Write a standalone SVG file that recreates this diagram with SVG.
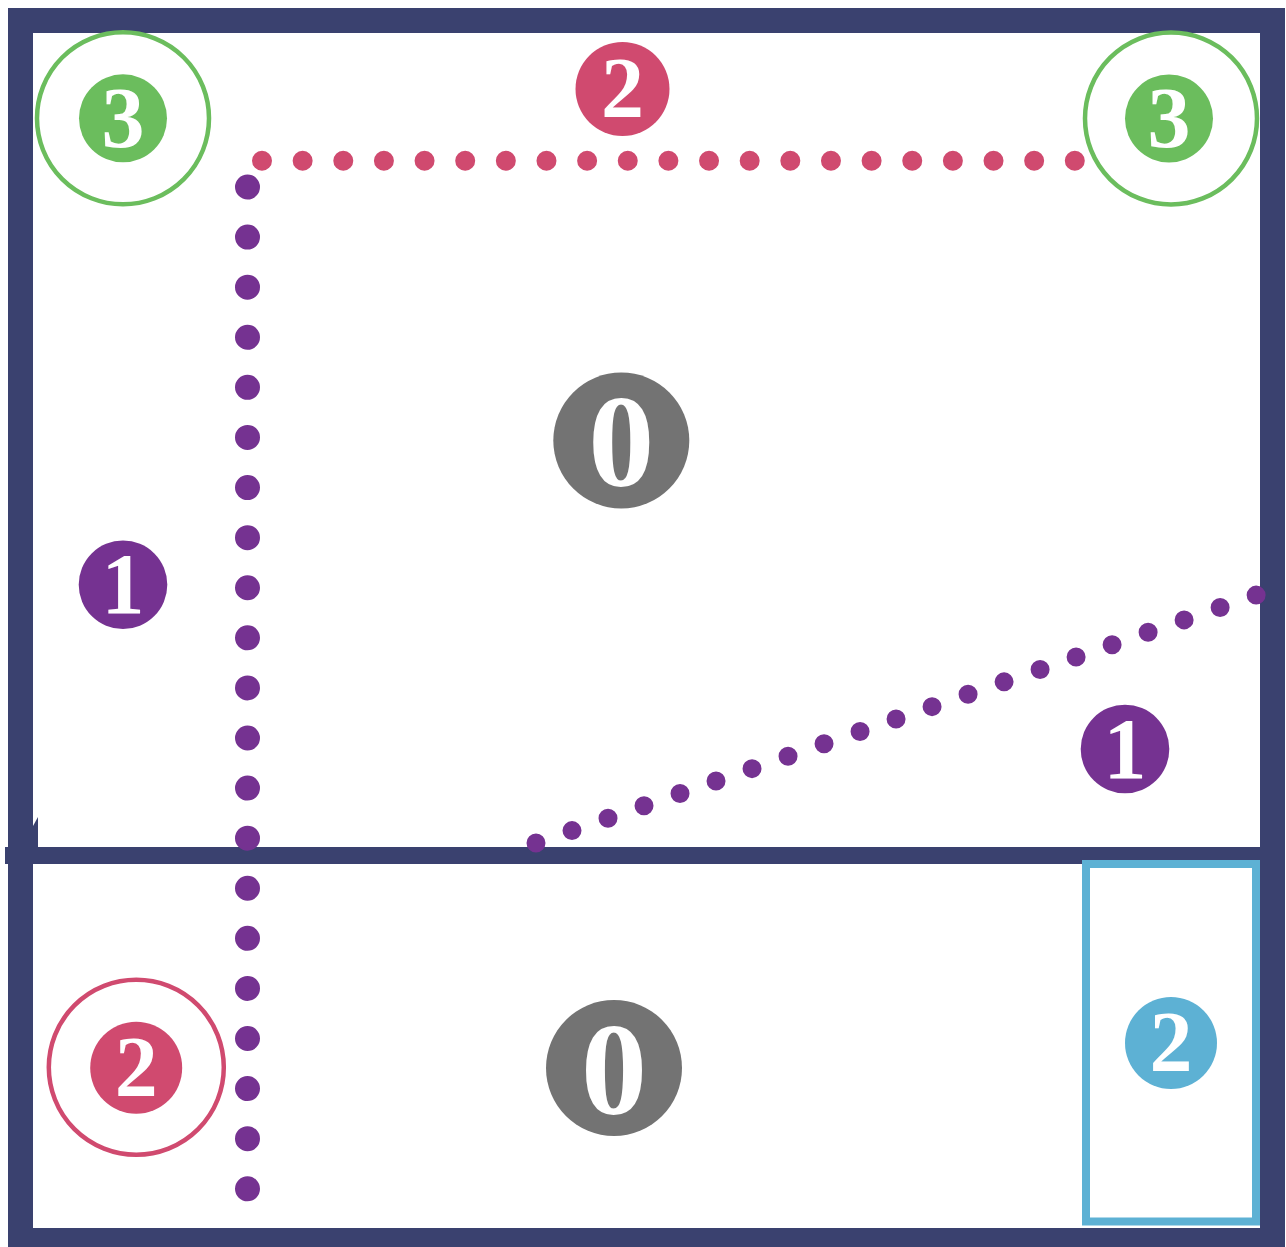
<svg xmlns="http://www.w3.org/2000/svg" width="1286" height="1247" viewBox="0 0 1286 1247">
  <style>
    .num { font-family: "Liberation Serif", "DejaVu Serif", serif; font-weight: bold; fill: #ffffff; text-anchor: middle; }
    .s { font-size: 86px; }
    .l { font-size: 132px; }
    .frame { fill: none; stroke: #3a416f; }
    .green { fill: #6bbd5d; }
    .pink { fill: #d04a6f; }
    .purple { fill: #753291; }
    .gray { fill: #737373; }
    .blue { fill: #5db1d4; }
    .dots { fill: none; stroke-linecap: round; }
  </style>
  <rect width="1286" height="1247" fill="#ffffff"/>

  <!-- outer frame and divider -->
  <g id="frame">
    <rect class="frame" x="20.5" y="20.5" width="1252" height="1220" stroke-width="25"/>
    <line x1="5" y1="855.5" x2="1262" y2="855.5" stroke="#3a416f" stroke-width="17"/>
    <polygon points="33,826 38,817 38,848 33,848" fill="#3a416f"/>
  </g>

  <!-- connectors (dotted lines) -->
  <g id="connectors">
    <line class="dots" x1="262" y1="160.7" x2="1075.5" y2="160.7" stroke="#d04a6f" stroke-width="20" stroke-dasharray="0 40.64"/>
    <line class="dots" x1="247.5" y1="187" x2="247.5" y2="1189.5" stroke="#753291" stroke-width="25" stroke-dasharray="0 50.09"/>
    <line class="dots" x1="536" y1="843" x2="1257" y2="594.8" stroke="#753291" stroke-width="19" stroke-dasharray="0 38.08"/>
  </g>

  <g id="node-3-left">
    <circle cx="123" cy="118.3" r="86" fill="none" stroke="#6bbd5d" stroke-width="4.5"/>
    <circle class="green" cx="123" cy="118.3" r="44"/>
    <text class="num s" x="123" y="147">3</text>
  </g>

  <g id="node-3-right">
    <circle cx="1171" cy="118.5" r="86" fill="none" stroke="#6bbd5d" stroke-width="4.5"/>
    <circle class="green" cx="1169" cy="118.5" r="44"/>
    <text class="num s" x="1169" y="147">3</text>
  </g>

  <g id="node-2-top">
    <circle class="pink" cx="622.5" cy="89" r="47"/>
    <text class="num s" x="622.5" y="117">2</text>
  </g>

  <g id="node-0-top">
    <circle class="gray" cx="621.3" cy="440.5" r="68"/>
    <text class="num l" x="621.3" y="486">0</text>
  </g>

  <g id="node-1-left">
    <circle class="purple" cx="123" cy="584.7" r="44.3"/>
    <text class="num s" x="123" y="613">1</text>
  </g>

  <g id="node-1-right">
    <circle class="purple" cx="1125" cy="749" r="44.3"/>
    <text class="num s" x="1125" y="777.5">1</text>
  </g>

  <g id="node-2-bottom-left">
    <circle cx="136.3" cy="1067.3" r="87.5" fill="none" stroke="#d04a6f" stroke-width="4.5"/>
    <circle class="pink" cx="136.2" cy="1067.8" r="46"/>
    <text class="num s" x="136.2" y="1096">2</text>
  </g>

  <g id="node-0-bottom">
    <circle class="gray" cx="614" cy="1068" r="68"/>
    <text class="num l" x="614" y="1113.5">0</text>
  </g>

  <g id="node-2-right">
    <rect x="1086" y="864" width="170" height="357.5" fill="none" stroke="#5db1d4" stroke-width="8"/>
    <circle class="blue" cx="1171" cy="1043" r="46"/>
    <text class="num s" x="1171" y="1071">2</text>
  </g>
</svg>
